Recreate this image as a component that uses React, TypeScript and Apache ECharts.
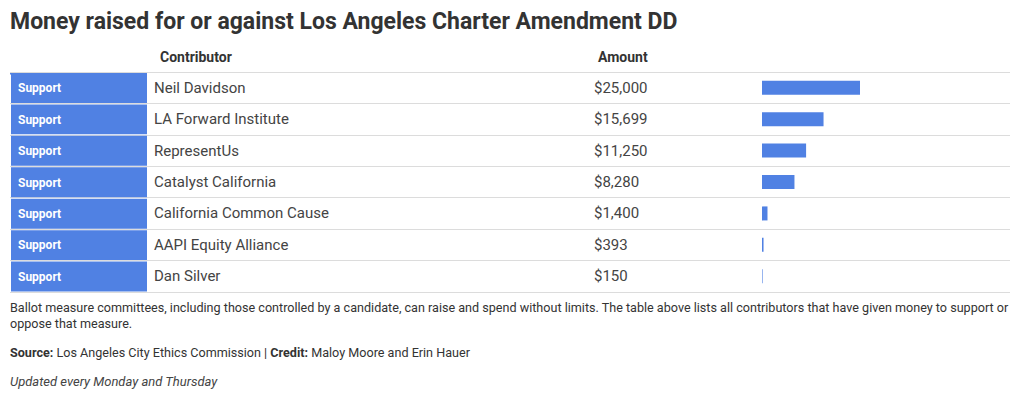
import React, { useEffect, useRef } from "react";
import * as echarts from "echarts";

const positions = ["Support", "Support", "Support", "Support", "Support", "Support", "Support"];
const contributors = [
  "Neil Davidson",
  "LA Forward Institute",
  "RepresentUs",
  "Catalyst California",
  "California Common Cause",
  "AAPI Equity Alliance",
  "Dan Silver",
];
const amounts = [25000, 15699, 11250, 8280, 1400, 393, 150];

const titleText = "Money raised for or against Los Angeles Charter Amendment DD";
const headerLabels = ["Contributor", "Amount"];
const noteLines = [
  "Ballot measure committees, including those controlled by a candidate, can raise and spend without limits. The table above lists all contributors that have given money to support or",
  "oppose that measure.",
];
const updatedText = "Updated every Monday and Thursday";

const BLUE = "#5081e3";
const TEXT = "#333333";
const FONT = "Roboto, 'Noto Sans', sans-serif";

const fmt = (v: number) => "$" + v.toLocaleString("en-US");

export default function App() {
  const ref = useRef<HTMLDivElement>(null);
  useEffect(() => {
    document.body.style.margin = "0";
    if (!ref.current) return;
    const chart = echarts.init(ref.current, null, { renderer: "svg" });
    const rows = contributors.map((c, i) => [i, positions[i], c, amounts[i]]);
    chart.setOption({
      animation: false,
      textStyle: { fontFamily: FONT },
      title: {
        text: titleText,
        left: 5,
        top: 5,
        textStyle: { fontFamily: FONT, fontSize: 23, fontWeight: "bold", color: TEXT },
      },
      grid: [
        { left: 10, width: 1000, top: 72, height: 220 },
        { left: 762, width: 98, top: 72, height: 220 },
      ],
      xAxis: [
        { gridIndex: 0, type: "value", min: 0, max: 1, show: false },
        { gridIndex: 1, type: "value", min: 0, max: 25000, show: false },
      ],
      yAxis: [
        {
          gridIndex: 0,
          type: "category",
          inverse: true,
          data: contributors,
          axisLine: { show: false },
          axisTick: { show: false },
          axisLabel: { show: false },
          splitLine: { show: true, lineStyle: { color: "#dcdcdc", width: 1 } },
        },
        {
          gridIndex: 1,
          type: "category",
          inverse: true,
          data: contributors,
          show: false,
        },
      ],
      series: [
        {
          type: "custom",
          xAxisIndex: 0,
          yAxisIndex: 0,
          data: rows,
          encode: { y: 0 },
          silent: true,
          renderItem: (params: any, api: any) => {
            const idx = api.value(0);
            const cy = api.coord([0, idx])[1];
            const h = api.size([0, 1])[1];
            const top = cy - h / 2;
            return {
              type: "group",
              children: [
                {
                  type: "rect",
                  shape: { x: 11, y: top + 1, width: 136, height: h - 1.5 },
                  style: { fill: BLUE },
                },
                {
                  type: "text",
                  x: 18,
                  y: cy + 0.5,
                  style: {
                    text: positions[idx],
                    fill: "#ffffff",
                    font: `bold 12px ${FONT}`,
                    verticalAlign: "middle",
                  },
                },
                {
                  type: "text",
                  x: 154,
                  y: cy,
                  style: {
                    text: contributors[idx],
                    fill: "#444444",
                    font: `15px ${FONT}`,
                    verticalAlign: "middle",
                  },
                },
                {
                  type: "text",
                  x: 594,
                  y: cy,
                  style: {
                    text: fmt(amounts[idx]),
                    fill: "#444444",
                    font: `15px ${FONT}`,
                    verticalAlign: "middle",
                  },
                },
              ],
            };
          },
        },
        {
          type: "bar",
          xAxisIndex: 1,
          yAxisIndex: 1,
          data: amounts,
          barWidth: 14,
          itemStyle: { color: BLUE },
          silent: true,
        },
      ],
      graphic: [
        {
          type: "text",
          left: 160,
          top: 50,
          style: { text: headerLabels[0], font: `bold 14px ${FONT}`, fill: TEXT },
        },
        {
          type: "text",
          left: 598,
          top: 50,
          style: { text: headerLabels[1], font: `bold 14px ${FONT}`, fill: TEXT },
        },
        {
          type: "rect",
          shape: { x: 10, y: 72, width: 137, height: 2.5 },
          style: { fill: BLUE },
        },
        {
          type: "text",
          left: 10,
          top: 301,
          style: { text: noteLines[0], font: `12.6px ${FONT}`, fill: TEXT },
        },
        {
          type: "text",
          left: 10,
          top: 317,
          style: { text: noteLines[1], font: `12.6px ${FONT}`, fill: TEXT },
        },
        {
          type: "text",
          left: 10,
          top: 346,
          style: {
            text: "{b|Source:} Los Angeles City Ethics Commission | {b|Credit:} Maloy Moore and Erin Hauer",
            font: `12.6px ${FONT}`,
            fill: TEXT,
            rich: {
              b: { fontWeight: "bold", fontSize: 12.6, fontFamily: FONT, fill: TEXT },
            },
          },
        },
        {
          type: "text",
          left: 10,
          top: 375,
          style: { text: updatedText, font: `italic 13px ${FONT}`, fill: "#444444" },
        },
      ],
    });
    return () => chart.dispose();
  }, []);
  return <div ref={ref} style={{ width: 1020, height: 401 }} />;
}
